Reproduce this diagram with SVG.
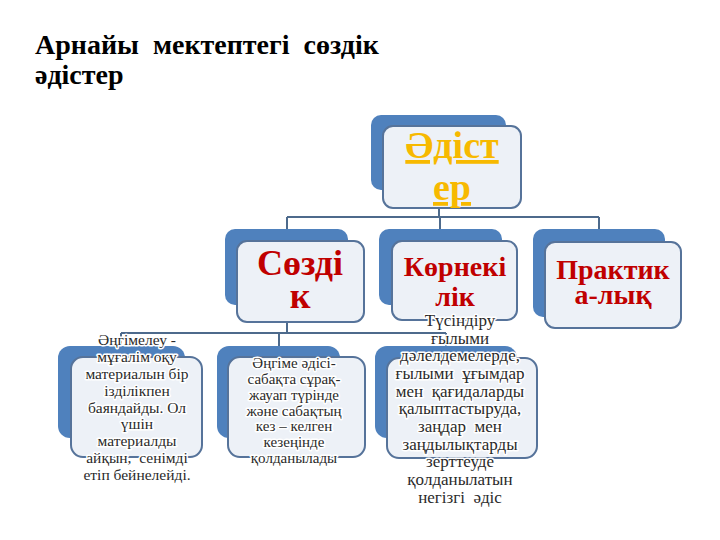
<svg xmlns="http://www.w3.org/2000/svg" width="720" height="540" viewBox="0 0 720 540">
<defs>
<style>
.back{fill:#4f81bd;}
.front{fill:#edf1f7;stroke:#56739a;stroke-width:2;}
.conn{stroke:#4d6a8c;stroke-width:2;fill:none;}
.serif{font-family:'Liberation Serif','Times New Roman',serif;}
.title{font-weight:bold;font-size:28px;fill:#000;}
.top{font-weight:bold;font-size:38px;fill:#f7b900;text-anchor:middle;text-decoration:underline;}
.lvl2{font-weight:bold;fill:#c00000;text-anchor:middle;}
.lvl3{fill:#2a2a2a;text-anchor:middle;stroke:#ffffff;stroke-width:3;stroke-linejoin:round;paint-order:stroke;}
</style>
</defs>
<rect width="720" height="540" fill="#ffffff"/>

<text class="serif title" x="35" y="54" xml:space="preserve">Арнайы  мектептегі  сөздік</text>
<text class="serif title" x="35" y="84">әдістер</text>

<g id="connectors">
<path class="conn" d="M439 208 V217 M287 217 H599 M287 217 V229 M440 217 V229 M599 217 V229"/>
<path class="conn" d="M287 322 V333 M121 333 H446 M121 333 V346 M279 333 V346 M446 333 V346"/>
</g>

<g id="node-adister">
<rect class="back" x="371" y="115" width="135" height="75" rx="10"/>
<rect class="front" x="383" y="126" width="138" height="82" rx="10"/>
<text class="serif top" x="452" y="158">Әдіст</text>
<text class="serif top" x="452" y="200">ер</text>
</g>

<g id="node-sozdik">
<rect class="back" x="225" y="229" width="123" height="76" rx="10"/>
<rect class="front" x="237" y="241" width="127" height="81" rx="10"/>
<text class="serif lvl2" x="300" y="275" font-size="36">Сөзді</text>
<text class="serif lvl2" x="300" y="308" font-size="36">к</text>
</g>

<g id="node-kornekilik">
<rect class="back" x="379" y="229" width="123" height="76" rx="10"/>
<rect class="front" x="392" y="241" width="125" height="79" rx="10"/>
<text class="serif lvl2" x="455" y="276" font-size="28">Көрнекі</text>
<text class="serif lvl2" x="455" y="306" font-size="28">лік</text>
</g>

<g id="node-praktikalyk">
<rect class="back" x="533" y="229" width="132" height="88" rx="10"/>
<rect class="front" x="545" y="242" width="136" height="86" rx="10"/>
<text class="serif lvl2" x="613" y="279" font-size="28">Практик</text>
<text class="serif lvl2" x="613" y="304" font-size="28">а-лық</text>
</g>

<g id="node-angimeleu">
<rect class="back" x="58" y="346" width="127" height="92" rx="12"/>
<rect class="front" x="71" y="357" width="131" height="100" rx="12"/>
<text class="serif lvl3" font-size="15.5" x="137" y="345" xml:space="preserve"><tspan x="137" y="345">Әңгімелеу -</tspan><tspan x="137" y="362">мұғалім оқу</tspan><tspan x="137" y="379">материалын бір</tspan><tspan x="137" y="396">ізділікпен</tspan><tspan x="137" y="413">баяндайды. Ол</tspan><tspan x="137" y="429">үшін</tspan><tspan x="137" y="446">материалды</tspan><tspan x="137" y="463">айқын,  сенімді</tspan><tspan x="137" y="480">етіп бейнелейді.</tspan></text>
</g>

<g id="node-angime-adisi">
<rect class="back" x="217" y="346" width="123" height="92" rx="12"/>
<rect class="front" x="228" y="357" width="137" height="100" rx="12"/>
<text class="serif lvl3" font-size="15" x="294" y="368"><tspan x="294" y="368">Әңгіме әдісі-</tspan><tspan x="294" y="384">сабақта сұрақ-</tspan><tspan x="294" y="400">жауап түрінде</tspan><tspan x="294" y="416">және сабақтың</tspan><tspan x="294" y="431">кез – келген</tspan><tspan x="294" y="447">кезеңінде</tspan><tspan x="294" y="463">қолданылады</tspan></text>
</g>

<g id="node-tusindiru">
<rect class="back" x="375" y="346" width="142" height="92" rx="12"/>
<rect class="front" x="387" y="358" width="150" height="100" rx="12"/>
<text class="serif lvl3" font-size="17" x="460" y="326" xml:space="preserve"><tspan x="460" y="326">Түсіндіру</tspan><tspan x="460" y="344">ғылыми</tspan><tspan x="460" y="361">дәлелдемелерде,</tspan><tspan x="460" y="379">ғылыми  ұғымдар</tspan><tspan x="460" y="397">мен  қағидаларды</tspan><tspan x="460" y="414">қалыптастыруда,</tspan><tspan x="460" y="432">заңдар  мен</tspan><tspan x="460" y="450">заңдылықтарды</tspan><tspan x="460" y="467">зерттеуде</tspan><tspan x="460" y="485">қолданылатын</tspan><tspan x="460" y="503">негізгі  әдіс</tspan></text>
</g>
</svg>
